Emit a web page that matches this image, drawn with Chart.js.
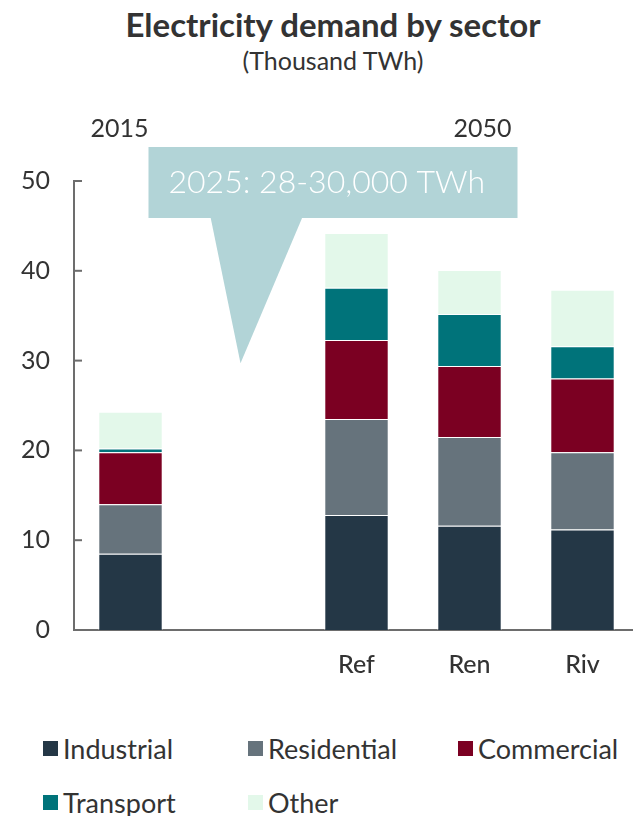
<!DOCTYPE html>
<html>
<head>
<meta charset="utf-8">
<script src="https://cdn.jsdelivr.net/npm/chart.js@4/dist/chart.umd.min.js"></script>
<style>
  body { margin: 0; width: 633px; height: 816px; overflow: hidden; position: relative; background: #fff; font-family: Lato, 'Open Sans', sans-serif; color: #333; }
  #title { position: absolute; top: 4px; left: 20px; width: 626px; text-align: center; font-weight: 700; font-size: 33px; color: #333; }
  #subtitle { position: absolute; top: 45px; left: 20px; width: 626px; text-align: center; font-size: 25px; color: #333; }
  .wrap { position: absolute; left: 0; top: 0; width: 640px; height: 715px; }
  #legend { position: absolute; left: 43px; top: 733px; display: grid; grid-template-columns: 205px 210px auto; grid-auto-rows: 54px; }
  .item { display: flex; align-items: center; font-size: 27px; color: #333; height: 30px; white-space: nowrap; }
  .box { width: 15px; height: 15px; margin-right: 5px; }
</style>
</head>
<body>
<div id="title">Electricity demand by sector</div>
<div id="subtitle">(Thousand TWh)</div>
<div class="wrap"><canvas id="chart"></canvas></div>
<div id="legend"></div>
<script>
// categories: 2015, (2025 gap), then 2050 scenarios
const categories = ['', '', 'Ref', 'Ren', 'Riv'];

const industrial  = [8.5, null, 12.8, 11.6, 11.2];
const residential = [5.5, null, 10.7, 9.9, 8.6];
const commercial  = [5.8, null, 8.8, 7.9, 8.2];
const transport   = [0.4, null, 5.8, 5.8, 3.6];
const other       = [4.1, null, 6.1, 4.9, 6.3];

const yTicks = [0, 10, 20, 30, 40, 50];

const periodLabels = ['2015', '2050'];
const periodIndex = [0, 3];

const calloutText = '2025: 28-30,000 TWh';
const calloutIndex = 1;
const calloutValue = 29.7;

const series = [
  { label: 'Industrial', data: industrial, color: '#243746' },
  { label: 'Residential', data: residential, color: '#66737c' },
  { label: 'Commercial', data: commercial, color: '#7b0022' },
  { label: 'Transport', data: transport, color: '#00737a' },
  { label: 'Other', data: other, color: '#e3f8ea' }
];

const FONT = "Lato, 'Open Sans', sans-serif";

// tick marks pointing into the plot, period labels and the 2025 callout
const extras = {
  id: 'extras',
  beforeDatasetsDraw(chart) {
    const { ctx, scales: { x, y } } = chart;
    ctx.save();

    // callout
    const tipX = x.getPixelForValue(calloutIndex) - 3;
    const tipY = y.getPixelForValue(calloutValue);
    const top = y.getPixelForValue(50) - 34;
    const bottom = top + 71;
    const left = tipX - 92;
    const right = tipX + 277;
    ctx.fillStyle = '#b2d4d7';
    ctx.fillRect(left, top, right - left, bottom - top);
    ctx.beginPath();
    ctx.moveTo(tipX - 30, bottom - 1);
    ctx.lineTo(tipX + 62, bottom - 1);
    ctx.lineTo(tipX, tipY);
    ctx.closePath();
    ctx.fill();
    ctx.fillStyle = '#fff';
    ctx.font = `300 32px ${FONT}`;
    ctx.textBaseline = 'middle';
    ctx.textAlign = 'left';
    ctx.fillText(calloutText, left + 20, top + 36);

    // period labels
    ctx.fillStyle = '#333';
    ctx.font = `25px ${FONT}`;
    ctx.textAlign = 'center';
    const shift = [-11, 13];
    periodLabels.forEach((t, i) => {
      ctx.fillText(t, x.getPixelForValue(periodIndex[i]) + shift[i], y.top - 52);
    });

    // inward tick marks
    ctx.strokeStyle = '#6d6d6d';
    ctx.lineWidth = 2;
    yTicks.forEach(v => {
      const py = y.getPixelForValue(v);
      ctx.beginPath();
      ctx.moveTo(x.left, py);
      ctx.lineTo(x.left + 8, py);
      ctx.stroke();
    });
    ctx.restore();
  }
};

const chart = new Chart(document.getElementById('chart'), {
  type: 'bar',
  data: {
    labels: categories,
    datasets: series.map(s => ({
      label: s.label,
      data: s.data,
      backgroundColor: s.color,
      borderColor: 'rgba(255,255,255,0.55)',
      borderWidth: 1,
      barPercentage: 0.57,
      categoryPercentage: 1
    }))
  },
  options: {
    responsive: true,
    maintainAspectRatio: false,
    animation: false,
    layout: { padding: { top: 181, right: 1, bottom: 15, left: 0 } },
    plugins: {
      legend: { display: false },
      tooltip: { enabled: false }
    },
    scales: {
      x: {
        stacked: true,
        grid: { display: false, drawTicks: false },
        border: { color: '#6d6d6d', width: 2 },
        ticks: { padding: 20, color: '#333', font: { family: FONT, size: 25, weight: '500' } }
      },
      y: {
        stacked: true,
        min: 0,
        max: 50,
        afterFit: s => { s.width = 74; },
        afterBuildTicks: s => { s.ticks = yTicks.map(v => ({ value: v })); },
        grid: { display: false, drawTicks: false },
        border: { color: '#6d6d6d', width: 2 },
        ticks: { padding: 24, color: '#333', font: { family: FONT, size: 25 } }
      }
    }
  },
  plugins: [extras]
});

// legend in fixed columns
const legend = document.getElementById('legend');
chart.data.datasets.forEach(ds => {
  const item = document.createElement('div');
  item.className = 'item';
  item.innerHTML = `<span class="box" style="background:${ds.backgroundColor}"></span>${ds.label}`;
  legend.appendChild(item);
});
</script>
</body>
</html>
